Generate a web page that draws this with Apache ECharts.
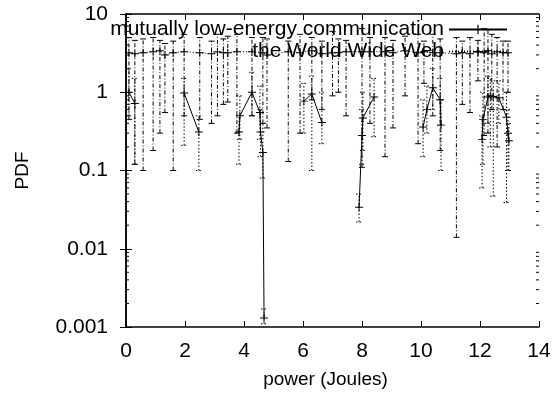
<!DOCTYPE html>
<html>
<head>
<meta charset="utf-8">
<script src="https://cdn.jsdelivr.net/npm/echarts@6/dist/echarts.min.js"></script>
<style>
  html, body { margin: 0; padding: 0; background: #fff; }
  #chart { width: 555px; height: 394px; }
</style>
</head>
<body>
<div id="chart"></div>
<script>
// mutually low-energy communication (solid line, dotted error bars)
var commX  = [0.1, 0.3, 1.97, 2.47, 3.83, 3.86, 4.27, 4.54, 4.56, 4.64, 4.68, 6.03, 6.3, 6.64, 7.9, 8.0, 8.03, 8.41, 10.07, 10.2, 10.4, 10.65, 10.68, 12.07, 12.1, 12.27, 12.35, 12.45, 12.64, 12.9, 12.95, 12.98];
var commY  = [1.0, 0.72, 0.98, 0.31, 0.31, 0.5, 1.0, 0.55, 0.31, 0.17, 0.0013, 0.77, 0.95, 0.41, 0.034, 0.28, 0.47, 0.87, 0.36, 0.6, 1.14, 0.8, 0.38, 0.25, 0.45, 0.87, 0.9, 0.88, 0.85, 0.48, 0.3, 0.24];
var commLo = [0.5, 0.12, 0.21, 0.1, 0.12, 0.25, 0.5, 0.25, 0.15, 0.08, 0.0011, 0.3, 0.1, 0.22, 0.022, 0.12, 0.18, 0.27, 0.15, 0.3, 0.6, 0.38, 0.1, 0.06, 0.12, 0.4, 0.2, 0.047, 0.4, 0.039, 0.1, 0.1];
var commHi = [2.0, 1.5, 1.5, 0.5, 0.5, 0.9, 1.8, 1.2, 0.6, 0.4, 0.0017, 1.3, 1.6, 1.0, 0.05, 0.6, 1.0, 1.5, 0.8, 1.2, 2.0, 1.5, 0.8, 0.5, 1.0, 1.6, 1.5, 1.4, 1.4, 1.0, 0.6, 0.4];

// the World Wide Web (dotted line, dash-dot error bars)
var wwwX  = [0.1, 0.3, 0.58, 0.92, 1.15, 1.32, 1.6, 1.97, 2.5, 2.9, 3.1, 3.3, 3.45, 3.76, 4.27, 4.64, 4.78, 5.5, 5.9, 6.3, 6.64, 7.0, 7.2, 7.46, 8.0, 8.27, 8.78, 9.05, 9.46, 9.9, 10.1, 10.4, 10.65, 11.2, 11.4, 11.66, 11.93, 12.14, 12.27, 12.4, 12.58, 12.78, 12.95];
var wwwY  = [3.2, 3.1, 3.2, 3.3, 3.4, 3.0, 3.2, 3.3, 3.2, 3.1, 3.3, 3.2, 3.2, 3.3, 3.3, 3.2, 3.0, 3.3, 3.2, 3.4, 3.1, 3.2, 3.2, 3.3, 3.3, 3.3, 3.3, 3.2, 3.4, 3.2, 3.3, 3.2, 3.2, 3.1, 3.2, 3.1, 3.3, 3.2, 3.4, 3.1, 3.3, 3.2, 3.2];
var wwwLo = [0.45, 0.12, 0.1, 0.18, 0.3, 0.55, 0.1, 0.5, 0.45, 0.4, 0.5, 0.7, 0.75, 0.3, 0.5, 0.4, 0.35, 0.13, 0.3, 0.8, 0.6, 0.9, 1.0, 0.5, 0.11, 0.4, 0.15, 0.35, 0.9, 0.22, 1.3, 0.5, 0.18, 0.014, 0.7, 0.55, 1.4, 0.28, 0.3, 0.6, 0.2, 0.6, 1.0];
var wwwHi = [5.0, 4.6, 4.8, 5.0, 4.6, 4.2, 4.5, 5.5, 5.0, 4.5, 5.5, 4.8, 5.2, 5.5, 5.0, 5.0, 4.8, 4.5, 5.5, 5.0, 4.5, 6.0, 4.8, 4.6, 6.5, 5.0, 5.0, 4.6, 5.2, 5.5, 4.5, 5.5, 4.8, 5.0, 4.5, 5.0, 4.6, 6.5, 6.3, 5.5, 5.0, 4.5, 4.5];

var yMin = 0.001, yMax = 10;

var FONT = "Liberation Sans";
var FS = 21;
var plus = "path://M4.4,0H5.6V4.4H10V5.6H5.6V10H4.4V5.6H0V4.4H4.4Z";

// split into segments where x jumps (gnuplot blank-line gaps)
function lineData(xs, ys) {
  var out = [];
  for (var i = 0; i < xs.length; i++) {
    if (i > 0 && xs[i] - xs[i - 1] > 1) out.push(["-", "-"]);
    out.push([xs[i], ys[i]]);
  }
  return out;
}
function errData(xs, ys, lo, hi) {
  return xs.map(function (x, i) { return [x, ys[i], lo[i], hi[i]]; });
}
function errRender(dash, capDash) {
  return function (params, api) {
    var x = api.value(0);
    var a = api.coord([x, api.value(2)]);
    var b = api.coord([x, api.value(3)]);
    var w = 3;
    var st = { stroke: "#000", lineWidth: 1, lineDash: dash };
    var cs = { stroke: "#000", lineWidth: 1, lineDash: capDash };
    return {
      type: "group",
      children: [
        { type: "line", shape: { x1: a[0], y1: a[1], x2: b[0], y2: b[1] }, style: st },
        { type: "line", shape: { x1: a[0] - w, y1: a[1], x2: a[0] + w, y2: a[1] }, style: cs },
        { type: "line", shape: { x1: b[0] - w, y1: b[1], x2: b[0] + w, y2: b[1] }, style: cs }
      ]
    };
  };
}

// minor ticks of the log axis (2..9 per decade), both sides
var minorVals = [];
for (var k = -3; k < 1; k++) {
  for (var m = 2; m <= 9; m++) minorVals.push([0, m * Math.pow(10, k)]);
}

var chart = echarts.init(document.getElementById("chart"));
chart.setOption({
  animation: false,
  textStyle: { fontFamily: FONT },
  grid: { left: 126, right: 16, top: 14, bottom: 66 },
  legend: {
    data: ["mutually low-energy communication", "the World Wide Web"],
    orient: "vertical",
    right: 42,
    top: 14,
    align: "right",
    itemWidth: 58,
    itemHeight: 12,
    itemGap: 1,
    textStyle: { fontFamily: FONT, fontSize: FS, color: "#000" },
    z: 10
  },
  xAxis: [
    {
      type: "value", min: 0, max: 14, interval: 2,
      name: "power (Joules)", nameLocation: "middle", nameGap: 43,
      nameTextStyle: { fontFamily: FONT, fontSize: 19, color: "#000", padding: [0, 14, 0, 0] },
      axisLine: { lineStyle: { color: "#000", width: 1.5 } },
      axisTick: { inside: true, length: 6, lineStyle: { color: "#000" } },
      axisLabel: { fontFamily: FONT, fontSize: FS, color: "#000", margin: 14 },
      splitLine: { show: false }
    },
    {
      type: "value", min: 0, max: 14, interval: 2, position: "top",
      axisLine: { lineStyle: { color: "#000", width: 1.5 } },
      axisTick: { inside: true, length: 6, lineStyle: { color: "#000" } },
      axisLabel: { show: false },
      splitLine: { show: false }
    }
  ],
  yAxis: [
    {
      type: "log", logBase: 10, min: yMin, max: yMax,
      name: "PDF", nameLocation: "middle", nameGap: 94,
      nameTextStyle: { fontFamily: FONT, fontSize: 19, color: "#000" },
      axisLine: { show: true, lineStyle: { color: "#000", width: 1.5 } },
      axisTick: { inside: true, length: 6, lineStyle: { color: "#000" } },
      axisLabel: {
        fontFamily: FONT, fontSize: FS, color: "#000", margin: 18,
        formatter: function (v) { return String(+v.toPrecision(3)); }
      },
      splitLine: { show: false }
    },
    {
      type: "log", logBase: 10, min: yMin, max: yMax, position: "right",
      axisLine: { show: true, lineStyle: { color: "#000", width: 1.5 } },
      axisTick: { inside: true, length: 6, lineStyle: { color: "#000" } },
      axisLabel: { show: false },
      splitLine: { show: false }
    }
  ],
  series: [
    {
      name: "minorTicks",
      type: "custom",
      silent: true,
      clip: false,
      data: minorVals,
      renderItem: function (params, api) {
        var l = api.coord([0, api.value(1)]);
        var r = api.coord([14, api.value(1)]);
        return {
          type: "group",
          children: [
            { type: "line", shape: { x1: l[0], y1: l[1], x2: l[0] + 3, y2: l[1] }, style: { stroke: "#000", lineWidth: 1 } },
            { type: "line", shape: { x1: r[0], y1: r[1], x2: r[0] - 3, y2: r[1] }, style: { stroke: "#000", lineWidth: 1 } }
          ]
        };
      }
    },
    {
      name: "commErr",
      type: "custom",
      silent: true,
      data: errData(commX, commY, commLo, commHi),
      encode: { x: 0, y: 1 },
      renderItem: errRender([1.5, 2], [1.5, 2])
    },
    {
      name: "wwwErr",
      type: "custom",
      silent: true,
      data: errData(wwwX, wwwY, wwwLo, wwwHi),
      encode: { x: 0, y: 1 },
      renderItem: errRender([4, 2, 1, 2], null)
    },
    {
      name: "mutually low-energy communication",
      type: "line",
      data: lineData(commX, commY),
      connectNulls: false,
      symbol: plus,
      symbolSize: 8,
      itemStyle: { color: "#000" },
      lineStyle: { color: "#000", width: 1, type: "solid" }
    },
    {
      name: "the World Wide Web",
      type: "line",
      data: lineData(wwwX, wwwY),
      symbol: plus,
      symbolSize: 8,
      itemStyle: { color: "#000" },
      lineStyle: { color: "#000", width: 1, type: [1, 2] }
    }
  ]
});
</script>
</body>
</html>
